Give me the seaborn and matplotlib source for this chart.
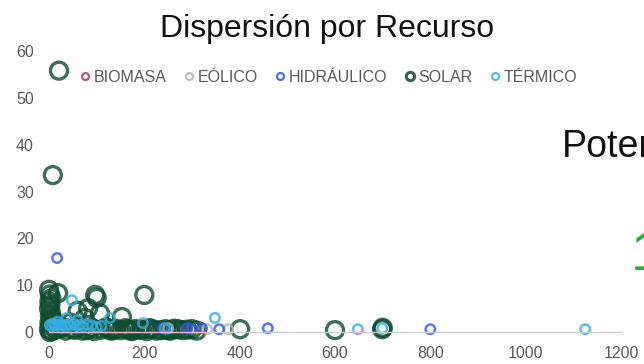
import matplotlib
matplotlib.use("Agg")
import matplotlib.pyplot as plt
from matplotlib.lines import Line2D
import seaborn as sns
import pandas as pd

# Resources and their colours
recursos = ["BIOMASA", "EÓLICO", "HIDRÁULICO", "SOLAR", "TÉRMICO"]
colores = {
    "BIOMASA": "#a23c66",
    "EÓLICO": "#b4b4b4",
    "HIDRÁULICO": "#2f55ee",
    "SOLAR": "#0d4a30",
    "TÉRMICO": "#33b0e0",
}

# Points per resource
biomasa_x = [4, 26]
biomasa_y = [2.0, 0.6]

eolico_x = [250, 332, 376]
eolico_y = [0.8, 0.6, 0.6]

hidraulico_x = [17, 239, 290, 300, 321, 357, 459, 800]
hidraulico_y = [15.8, 0.8, 0.8, 0.6, 0.8, 0.6, 0.8, 0.6]

solar_x = [21, 8, 0, 2, 5, 1, 3, 0, 4, 2, 6, 1, 3, 0, 5, 2, 19, 97, 100, 200,
           82, 107, 153, 60, 75, 45, 30, 15, 10, 12, 25, 35, 50, 65, 80, 90,
           110, 120, 130, 140, 150, 165, 175, 181, 190, 210, 225, 244, 250,
           262, 300, 310, 401, 600, 699, 700, 55, 70, 85, 95, 125, 135, 160,
           170, 195, 205, 215, 235, 255, 270, 280, 290]
solar_y = [55.8, 33.5, 9.0, 8.0, 7.2, 6.5, 5.8, 5.0, 4.2, 3.5, 2.8, 2.0, 1.3,
           0.6, 0.2, 0.0, 8.3, 7.9, 7.3, 7.9, 5.1, 4.0, 3.2, 4.5, 3.0, 2.0,
           1.0, 0.5, 2.5, 1.5, 0.8, 0.3, 0.6, 1.2, 0.4, 0.8, 0.5, 1.0, 0.3,
           0.7, 0.4, 0.6, 0.2, 0.6, 0.5, 0.8, 0.3, 0.6, 0.4, 0.7, 0.6, 0.3,
           0.6, 0.4, 0.6, 0.9, 0.5, 0.3, 0.7, 0.2, 0.6, 0.4, 0.8, 0.3, 0.5,
           0.2, 0.7, 0.4, 0.3, 0.6, 0.4, 0.5]

termico_x = [48, 2, 5, 8, 12, 15, 20, 25, 30, 35, 40, 45, 52, 58, 65, 72, 80,
             90, 100, 110, 37, 128, 197, 243, 348, 648, 699, 1125, 18, 60]
termico_y = [6.8, 1.5, 1.2, 1.8, 1.4, 1.6, 1.3, 1.7, 1.5, 1.2, 1.6, 1.4, 1.8,
             1.3, 1.5, 1.2, 1.6, 1.4, 1.0, 1.3, 3.0, 3.0, 1.9, 0.8, 3.0, 0.6,
             0.8, 0.6, 2.2, 2.5]

x_ticks = [0, 200, 400, 600, 800, 1000, 1200]
y_ticks = [0, 10, 20, 30, 40, 50, 60]

series = {
    "BIOMASA": (biomasa_x, biomasa_y),
    "SOLAR": (solar_x, solar_y),
    "EÓLICO": (eolico_x, eolico_y),
    "HIDRÁULICO": (hidraulico_x, hidraulico_y),
    "TÉRMICO": (termico_x, termico_y),
}
df = pd.concat(
    [pd.DataFrame({"recurso": k, "x": v[0], "y": v[1]}) for k, v in series.items()],
    ignore_index=True,
)

sns.set_theme(style="white")
plt.rcParams["font.family"] = ["Liberation Sans", "DejaVu Sans"]

fig = plt.figure(figsize=(6.44, 3.64), dpi=100)
ax = fig.add_axes([49 / 644, 32 / 364, 572 / 644, 281 / 364])

estilo = {
    "SOLAR": dict(s=150, lw=2.4, alpha=0.8),
}
for rec in series:
    sub = df[df["recurso"] == rec]
    st = estilo.get(rec, dict(s=46, lw=1.8, alpha=0.8))
    n_before = len(ax.collections)
    sns.scatterplot(data=sub, x="x", y="y", ax=ax, s=st["s"], legend=False,
                    color=colores[rec])
    coll = ax.collections[n_before]
    coll.set_facecolor("none")
    coll.set_edgecolor(colores[rec])
    coll.set_linewidth(st["lw"])
    coll.set_alpha(st["alpha"])
    coll.set_clip_on(False)

ax.set_xlim(0, 1200)
ax.set_ylim(0, 60)
ax.set_xticks(x_ticks)
ax.set_yticks(y_ticks)
ax.set_xlabel("")
ax.set_ylabel("")
for side in ["top", "right", "left"]:
    ax.spines[side].set_visible(False)
ax.spines["bottom"].set_color("#cccccc")
ax.spines["bottom"].set_linewidth(1.0)
ax.tick_params(axis="both", length=0, labelsize=11.5, labelcolor="#595959")
ax.tick_params(axis="x", pad=10)
ax.tick_params(axis="y", pad=11)
ax.grid(False)

fig.text(327 / 644, 1 - 29 / 364, "Dispersión por Recurso", ha="center",
         va="center", fontsize=23, color="#111111")

handles = []
for rec in recursos:
    big = rec == "SOLAR"
    handles.append(Line2D([], [], linestyle="none", marker="o",
                          markersize=6 if big else 5,
                          markeredgewidth=2.2 if big else 1.6,
                          markerfacecolor="none",
                          markeredgecolor=colores[rec], alpha=0.85))
leg = ax.legend(handles, recursos, ncol=5, loc="center left",
                bbox_to_anchor=(80 / 644, 1 - 77 / 364),
                bbox_transform=fig.transFigure, frameon=False,
                fontsize=11.5, handlelength=0.6, handletextpad=0.25,
                columnspacing=1.1, borderpad=0, borderaxespad=0)
for t in leg.get_texts():
    t.set_color("#595959")

# Neighbouring dashboard elements cut off at the right edge
fig.text(562 / 644, 1 - 147 / 364, "Potencia", ha="left", va="center",
         fontsize=27, color="#111111")
fig.text(631 / 644, 1 - 270 / 364, "1", ha="left", va="baseline",
         fontsize=40, color="#1fae4a")

fig.savefig("out.png", dpi=100)
